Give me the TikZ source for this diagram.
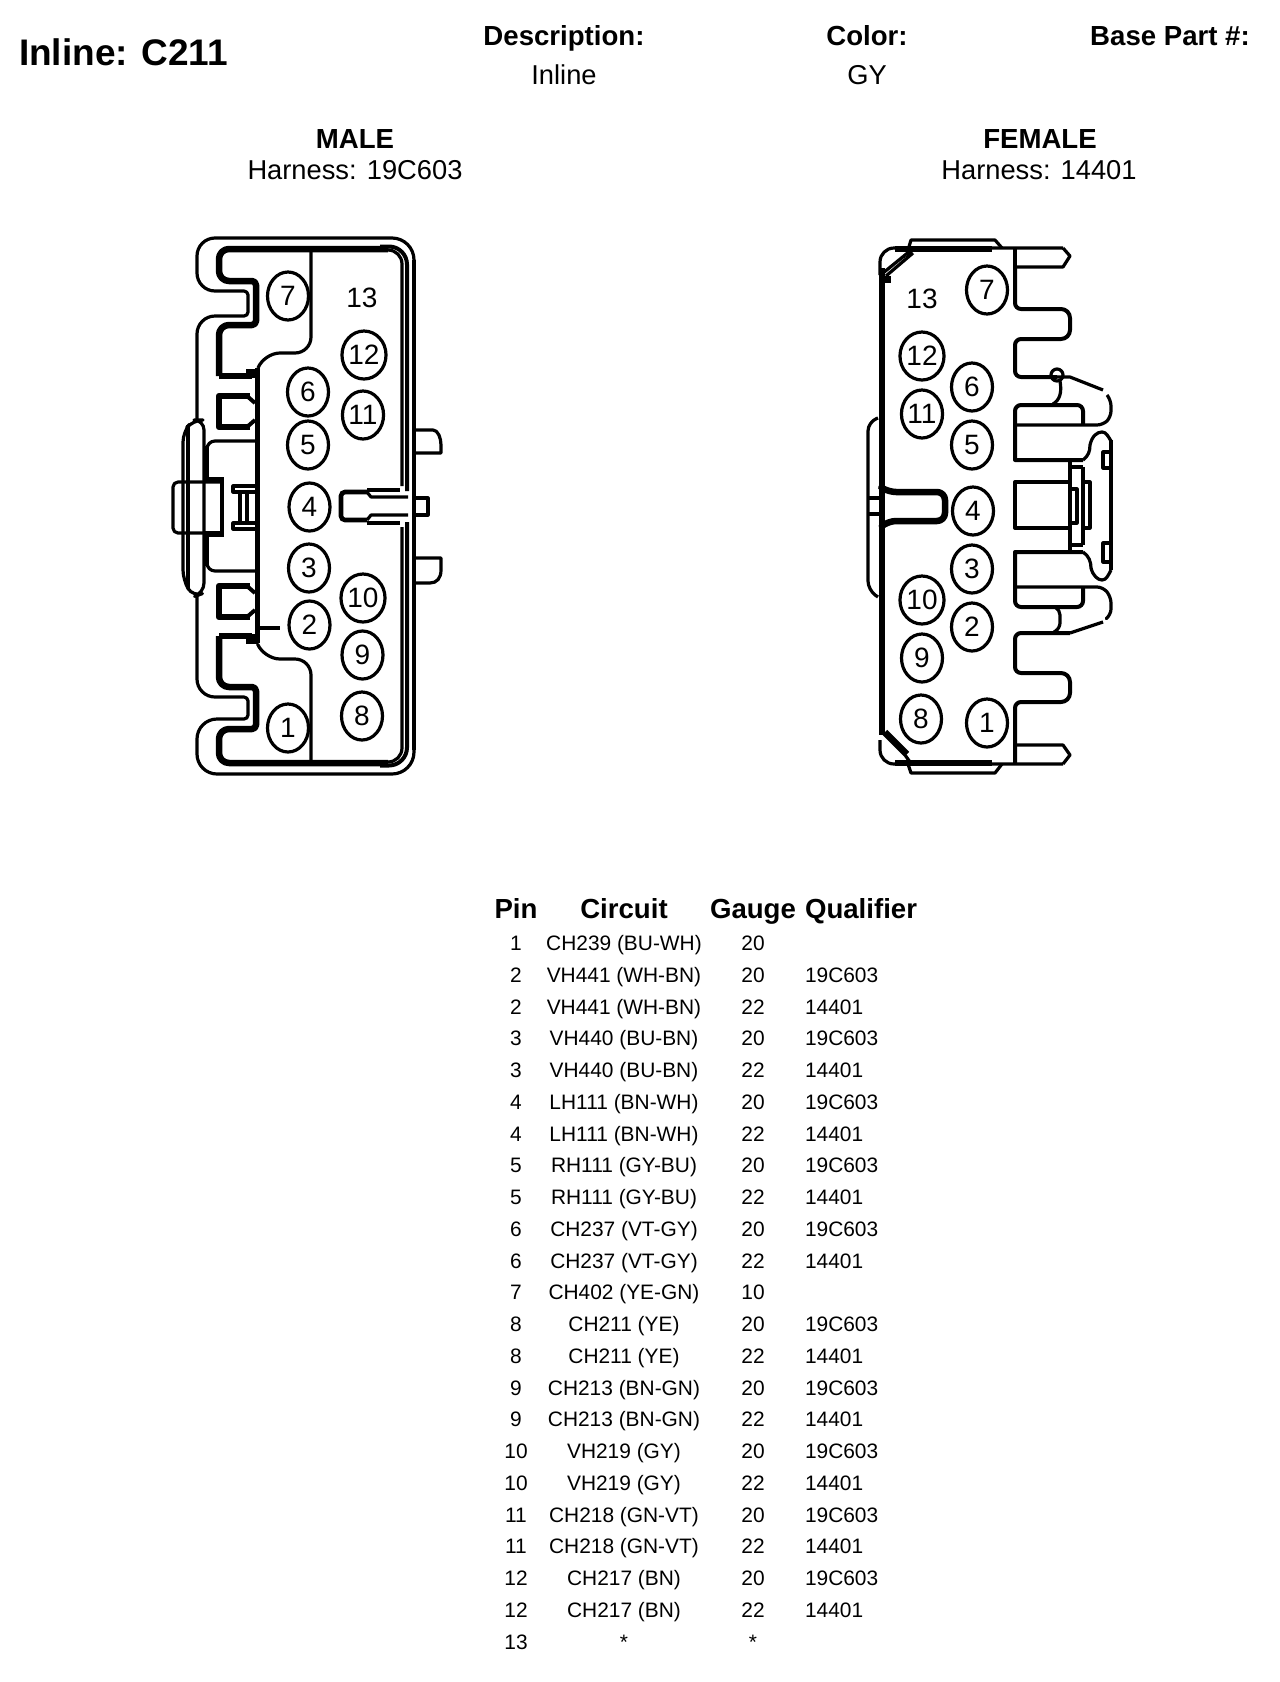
\documentclass[tikz,border=0pt]{standalone}
\usepackage{fontspec}
\setmainfont{Liberation Sans}
\usetikzlibrary{shapes.geometric}

\tikzset{
  thinline/.style = {line width=3.2pt, line join=round},
  midline/.style = {line width=4pt, line join=round},
  thickline/.style = {line width=6.5pt, line join=round},
  pincircle/.style = {shape=ellipse, draw, line width=3.2pt, minimum width=41pt, minimum height=48pt, inner sep=0pt, font=\fontsize{28}{28}\selectfont},
  cavity/.style = {font=\fontsize{28}{28}\selectfont},
  boldhead/.style = {anchor=base, font=\fontsize{27.6}{27.6}\selectfont\bfseries},
  plainhead/.style = {anchor=base, font=\fontsize{27.3}{27.3}\selectfont},
  rowtext/.style = {anchor=base, font=\fontsize{20.9}{20.9}\selectfont}
}

\begin{document}
\begin{tikzpicture}[x=1pt, y=-1pt]
  \useasboundingbox (0,0) rectangle (1280,1682);

  % header
  \node[anchor=base west, font=\fontsize{37}{37}\selectfont\bfseries] (title) at (15.5,65) {Inline: C211};
  \node[boldhead] (desc) at (564,45) {Description:};
  \node[plainhead] (descval) at (564,84) {Inline};
  \node[boldhead] (color) at (867,45) {Color:};
  \node[plainhead] (colorval) at (867,84) {GY};
  \node[boldhead] (basepart) at (1170,45) {Base Part \#:};
  \node[boldhead] (male) at (355,148) {MALE};
  \node[plainhead] (maleharn) at (355,179) {Harness: 19C603};
  \node[boldhead] (female) at (1040,148) {FEMALE};
  \node[plainhead] (femaleharn) at (1039,179) {Harness: 14401};

  % male connector, outer shell
  \draw[thinline] (197,420) [rounded corners=18] -- (197,316) [rounded corners=4] -- (248,316) -- (248,291) [rounded corners=18] -- (197,291) -- (197,238) [rounded corners=22] -- (414,238) -- (414,774) [rounded corners=20] -- (197,774) -- (197,719) [rounded corners=4] -- (248,719) -- (248,697) [rounded corners=18] -- (197,697) -- (197,593);
  \draw[midline] (414,260) -- (414,750);
  % male connector, inner wall
  \draw[thickline] (219,376) [rounded corners=10] -- (219,325) [rounded corners=4] -- (256,325) -- (256,281) [rounded corners=10] -- (219,281) -- (219,249) -- (388,249);
  \draw[thickline] (219,636) [rounded corners=10] -- (219,687) [rounded corners=4] -- (256,687) -- (256,729) [rounded corners=10] -- (219,729) -- (219,763) -- (388,763);
  \draw[thinline, rounded corners=14] (385,250) -- (402,250) -- (402,486);
  \draw[midline, rounded corners=18] (380,246.5) -- (407,246.5) -- (407,491);
  \draw[thinline, rounded corners=14] (385,762) -- (402,762) -- (402,527);
  \draw[midline, rounded corners=18] (380,765.5) -- (407,765.5) -- (407,522);
  \draw[thickline] (219,376) -- (252,376);
  \draw[thickline] (219,636) -- (252,636);
  \draw[line width=5pt] (257,368) -- (257,643);
  \fill (246,369) rectangle (258,378);
  \fill (246,634) rectangle (258,644);
  % male connector, keying pockets
  \draw[thickline] (250,396) -- (219,396) -- (219,427) -- (250,427);
  \draw[thickline] (250,586) -- (219,586) -- (219,617) -- (250,617);
  \draw[midline] (247,396) -- (255,403) (247,427) -- (255,420);
  \draw[midline] (247,586) -- (255,593) (247,617) -- (255,610);
  % male connector, dividers
  \draw[thinline, rounded corners=16] (258,368) -- (264,353) -- (311,353) [sharp corners] -- (311,250);
  \draw[thinline, rounded corners=16] (258,645) -- (264,659) -- (311,659) [sharp corners] -- (311,762);
  \draw[thinline] (257,628) -- (280,628);
  % male connector, latch
  \draw[thinline, rounded corners=8] (257,441) -- (207,441) -- (207,450);
  \draw[thinline, rounded corners=8] (257,571) -- (207,571) -- (207,562);
  \draw[midline] (207,446) -- (207,482) (207,533) -- (207,566);
  \draw[thinline, rounded corners=10] (193,420) -- (204,420) -- (204,593) -- (193,597) -- (183,580) -- (183,432) -- cycle;
  \draw[thinline] (188,425) -- (188,588);
  \draw[thinline, rounded corners=5] (223,482) -- (173,482) -- (173,533) -- (223,533);
  \draw[midline] (222,482) -- (222,533);
  \draw[thickline] (204,480) -- (224,480) (204,534) -- (224,534);
  \draw[thinline] (256,486) -- (233,486) -- (233,492) -- (256,492);
  \draw[thinline] (256,523) -- (233,523) -- (233,529) -- (256,529);
  \draw[thinline] (240,490) -- (240,525);
  \draw[midline] (247,490) -- (247,525);
  % male connector, centre slot and tabs
  \draw[line width=4.6pt, rounded corners=4] (367,492) -- (341,492) -- (341,520) -- (367,520);
  \draw[thinline] (367,492) -- (371,497) -- (408,497);
  \draw[thinline] (367,520) -- (371,515) -- (408,515);
  \draw[thinline] (367,490) -- (400,490);
  \draw[thinline] (367,523) -- (400,523);
  \draw[thinline] (414,430) -- (433,430) .. controls (438,430) and (441,438) .. (441,445) -- (441,453) -- (414,453);
  \draw[thinline] (414,558) -- (441,558) -- (441,570) .. controls (441,578) and (437,583) .. (430,583) -- (414,583);
  \draw[thinline] (414,498) -- (428,498) -- (428,515) -- (414,515);
  % male connector, cavities
  \foreach \pinno/\px/\py in {7/288/296, 12/364/355, 6/308/392, 11/363/415, 5/308/445, 4/309.5/507, 3/309/568, 10/363/598, 2/309.5/625, 9/362.5/655, 8/362/716, 1/288/728}
    \node[pincircle, fill=white] (mp\pinno) at (\px,\py) {\pinno};
  \node[cavity] (mp13) at (362,298) {13};

  % female connector, body
  \draw[line width=6.5pt] (882,268) -- (882,735);
  \draw[thinline, rounded corners=14] (880,275) -- (880,248) -- (1063,248);
  \draw[thinline, rounded corners=14] (880,740) -- (880,764) -- (1063,764);
  \draw[thickline] (895,249) -- (992,249) (895,763) -- (992,763);
  \draw[thinline] (883,273) -- (910,251) (886,276) -- (913,253);
  \draw[thinline] (883,733) -- (905,755) -- (910,762) (886,731) -- (908,753);
  \draw[thinline] (908,250) -- (911,240) -- (995,240) -- (1002,248);
  \draw[thinline] (908,764) -- (911,773) -- (995,773) -- (1002,764);
  \fill (884,276) rectangle (891,283);
  % female connector, right side fingers
  \draw[midline] (1015,248) -- (1015,267);
  \draw[thinline] (1063,248) -- (1070,256) -- (1063,267) -- (1015,267);
  \draw[midline, rounded corners=6] (1015,267) -- (1015,309) [rounded corners=9] -- (1070,309) -- (1070,339) [rounded corners=6] -- (1015,339) -- (1015,377) -- (1057,377);
  \draw[thinline] (1057,377) -- (1070,377) -- (1103,390);
  \draw[thinline, rounded corners=6] (1107,395) -- (1111,400) -- (1111,417) -- (1103,425) -- (1017,425);
  \draw[thinline] (1057,375) circle[radius=6];
  \draw[thinline] (1060,381) .. controls (1062,392) and (1060,400) .. (1053,404);
  \draw[midline, rounded corners=6] (1083,425) -- (1083,405) -- (1015,405) [sharp corners] -- (1015,460) -- (1083,460);
  \draw[thinline] (1083,460) .. controls (1088,456) and (1090,452) .. (1090,445) .. controls (1092,436) and (1097,432) .. (1102,432) .. controls (1106,432) and (1108,436) .. (1111,441);
  \draw[midline] (1111,440) -- (1111,570);
  \draw[thinline] (1111,452) -- (1103,452) -- (1103,468) -- (1111,468);
  \draw[thinline] (1111,543) -- (1103,543) -- (1103,562) -- (1111,562);
  % female connector, centre block
  \draw[midline] (1070,482) -- (1015,482) -- (1015,528) -- (1070,528);
  \draw[thinline] (1070,460) -- (1070,552);
  \draw[midline] (1070,467) -- (1083,467) (1070,545) -- (1083,545);
  \draw[thinline] (1083,467) -- (1083,545);
  \draw[thinline] (1083,482) -- (1090,482) -- (1090,528) -- (1083,528);
  \draw[thinline] (1070,489) -- (1077,489) -- (1077,523) -- (1070,523);
  % female connector, lower fingers
  \draw[midline, rounded corners=6] (1083,588) -- (1083,607) -- (1015,607) [sharp corners] -- (1015,552) -- (1083,552);
  \draw[thinline] (1083,552) .. controls (1089,556) and (1091,562) .. (1091,568) .. controls (1093,576) and (1098,580) .. (1102,580) .. controls (1106,580) and (1108,576) .. (1111,570);
  \draw[thinline, rounded corners=6] (1017,587) -- (1103,587) -- (1111,597) -- (1111,615) -- (1107,618);
  \draw[thinline] (1103,622) -- (1070,633);
  \draw[midline, rounded corners=6] (1070,633) -- (1015,633) -- (1015,673) [rounded corners=9] -- (1070,673) -- (1070,702) [rounded corners=6] -- (1015,702) [sharp corners] -- (1015,764);
  \draw[thinline, rounded corners=5] (1055,607) -- (1060,610) -- (1060,628) -- (1054,632);
  \draw[thinline] (1015,745) -- (1063,745) -- (1070,755) -- (1063,764);
  % female connector, left latch and slot
  \draw[thinline, rounded corners=9] (878,418) -- (868,422) -- (868,590) -- (878,597);
  \draw[thinline] (867,498) -- (880,498) (867,514) -- (880,514);
  \draw[thickline, rounded corners=8] (882,488) -- (888,492) -- (945,492) -- (945,521) -- (888,521) -- (882,526);
  \foreach \pinno/\px/\py in {7/987/290, 12/922/356, 6/972/387, 11/922/414, 5/972/445, 4/973/511, 3/972/569, 10/922/600, 2/972/627, 9/922/658, 8/921/719, 1/987/723}
    \node[pincircle, fill=white] (fp\pinno) at (\px,\py) {\pinno};
  \node[cavity] (fp13) at (922,299) {13};

  % pin table
  \node[boldhead] (pinhead) at (516,918) {Pin};
  \node[boldhead] (circuithead) at (624,918) {Circuit};
  \node[boldhead] (gaugehead) at (753,918) {Gauge};
  \node[boldhead, anchor=base west] (qualhead) at (801.5,918) {Qualifier};
  \foreach \pinno/\circuit/\gauge/\qual [count=\row from 0] in {
    1/CH239 (BU-WH)/20/, 2/VH441 (WH-BN)/20/19C603, 2/VH441 (WH-BN)/22/14401,
    3/VH440 (BU-BN)/20/19C603, 3/VH440 (BU-BN)/22/14401,
    4/LH111 (BN-WH)/20/19C603, 4/LH111 (BN-WH)/22/14401,
    5/RH111 (GY-BU)/20/19C603, 5/RH111 (GY-BU)/22/14401,
    6/CH237 (VT-GY)/20/19C603, 6/CH237 (VT-GY)/22/14401, 7/CH402 (YE-GN)/10/,
    8/CH211 (YE)/20/19C603, 8/CH211 (YE)/22/14401,
    9/CH213 (BN-GN)/20/19C603, 9/CH213 (BN-GN)/22/14401,
    10/VH219 (GY)/20/19C603, 10/VH219 (GY)/22/14401,
    11/CH218 (GN-VT)/20/19C603, 11/CH218 (GN-VT)/22/14401,
    12/CH217 (BN)/20/19C603, 12/CH217 (BN)/22/14401, 13/*/*/}
  {
    \pgfmathsetmacro{\rowy}{950.5+31.75*\row}
    \node[rowtext] (pin\row) at (516,\rowy) {\pinno};
    \node[rowtext] (circuit\row) at (624,\rowy) {\circuit};
    \node[rowtext] (gauge\row) at (753,\rowy) {\gauge};
    \node[rowtext, anchor=base west] (qual\row) at (801.5,\rowy) {\qual};
  }
\end{tikzpicture}
\end{document}
